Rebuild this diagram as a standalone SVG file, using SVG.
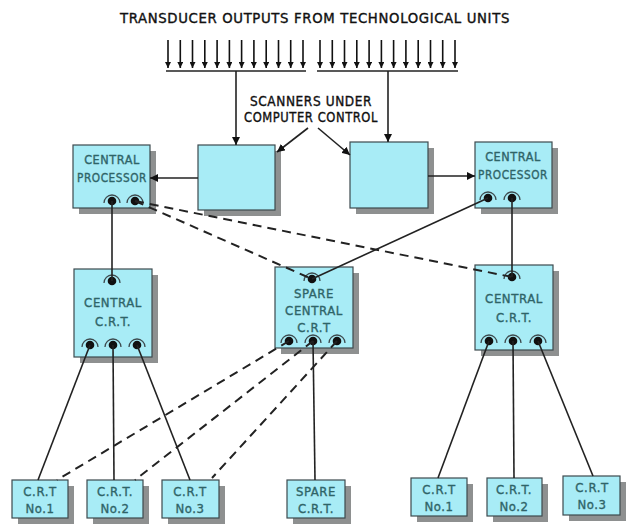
<svg xmlns="http://www.w3.org/2000/svg" width="628" height="526" viewBox="0 0 628 526">
<style>
.box{fill:#a8ecf6;stroke:#3d4a4e;stroke-width:1.2}
.sh{fill:#8e9090}
.t{font-family:"DejaVu Sans Condensed","Liberation Sans Narrow","Liberation Sans",sans-serif;font-size:12.5px;fill:#2f6468;stroke:#2f6468;stroke-width:0.35;text-anchor:middle;letter-spacing:0.6px}
.tb{font-size:13px}
.lbl{font-family:"DejaVu Sans Condensed","Liberation Sans Narrow","Liberation Sans",sans-serif;font-size:13.5px;fill:#111;stroke:#111;stroke-width:0.35;text-anchor:middle;letter-spacing:0.6px}
.ln{stroke:#222;stroke-width:1.6;fill:none}
.dash{stroke:#222;stroke-width:2;fill:none;stroke-dasharray:9 6}
.arc{stroke:#3d4a4e;stroke-width:1.3;fill:none}
.dot{fill:#111}
</style>
<defs>
<marker id="ah" viewBox="0 0 10 10" refX="10" refY="5" markerWidth="8" markerHeight="8" markerUnits="userSpaceOnUse" orient="auto"><path d="M0,0 L10,5 L0,10 z" fill="#111"/></marker>
<marker id="ah2" viewBox="0 0 10 10" refX="10" refY="5" markerWidth="7" markerHeight="6" markerUnits="userSpaceOnUse" orient="auto"><path d="M0,0 L10,5 L0,10 z" fill="#111"/></marker>
<g id="conn"><path class="arc" d="M-8,2 A8,8 0 0 1 8,2"/><circle class="dot" r="4.3"/></g>
</defs>

<text class="lbl" x="315" y="23" textLength="390" lengthAdjust="spacingAndGlyphs">TRANSDUCER OUTPUTS FROM TECHNOLOGICAL UNITS</text>

<g id="transducers">
<g stroke="#111" stroke-width="1.6" marker-end="url(#ah2)">
<line x1="168" y1="40" x2="168" y2="68"/><line x1="180.3" y1="40" x2="180.3" y2="68"/><line x1="192.5" y1="40" x2="192.5" y2="68"/><line x1="204.8" y1="40" x2="204.8" y2="68"/><line x1="217.1" y1="40" x2="217.1" y2="68"/><line x1="229.4" y1="40" x2="229.4" y2="68"/><line x1="241.6" y1="40" x2="241.6" y2="68"/><line x1="253.9" y1="40" x2="253.9" y2="68"/><line x1="266.2" y1="40" x2="266.2" y2="68"/><line x1="278.5" y1="40" x2="278.5" y2="68"/><line x1="290.7" y1="40" x2="290.7" y2="68"/><line x1="303" y1="40" x2="303" y2="68"/>
<line x1="320" y1="40" x2="320" y2="68"/><line x1="332.3" y1="40" x2="332.3" y2="68"/><line x1="344.5" y1="40" x2="344.5" y2="68"/><line x1="356.8" y1="40" x2="356.8" y2="68"/><line x1="369.1" y1="40" x2="369.1" y2="68"/><line x1="381.4" y1="40" x2="381.4" y2="68"/><line x1="393.6" y1="40" x2="393.6" y2="68"/><line x1="405.9" y1="40" x2="405.9" y2="68"/><line x1="418.2" y1="40" x2="418.2" y2="68"/><line x1="430.5" y1="40" x2="430.5" y2="68"/><line x1="442.7" y1="40" x2="442.7" y2="68"/><line x1="455" y1="40" x2="455" y2="68"/>
</g>
<line class="ln" x1="166" y1="71" x2="306" y2="71"/>
<line class="ln" x1="317" y1="71" x2="458" y2="71"/>
</g>

<text class="lbl" x="311" y="106">SCANNERS UNDER</text>
<text class="lbl" x="311" y="122" textLength="134" lengthAdjust="spacingAndGlyphs">COMPUTER CONTROL</text>

<g id="scanner-left"><rect class="sh" x="204" y="151" width="77" height="65"/><rect class="box" x="198" y="145" width="77" height="65"/></g>
<g id="scanner-right"><rect class="sh" x="356" y="148" width="78" height="66"/><rect class="box" x="350" y="142" width="78" height="66"/></g>

<g id="cp-left"><rect class="sh" x="79" y="151" width="77" height="63"/><rect class="box" x="73" y="145" width="77" height="63"/>
<text class="t" x="112" y="164">CENTRAL</text><text class="t" x="112" y="182" textLength="70" lengthAdjust="spacingAndGlyphs">PROCESSOR</text>
<use href="#conn" x="112" y="201"/><use href="#conn" x="135" y="201"/></g>

<g id="cp-right"><rect class="sh" x="481" y="148" width="77" height="66"/><rect class="box" x="475" y="142" width="77" height="66"/>
<text class="t" x="513" y="161">CENTRAL</text><text class="t" x="513" y="179" textLength="70" lengthAdjust="spacingAndGlyphs">PROCESSOR</text>
<use href="#conn" x="488" y="198"/><use href="#conn" x="512" y="198"/></g>

<g id="ccrt-left"><rect class="sh" x="80" y="275" width="78" height="88"/><rect class="box" x="74" y="269" width="78" height="88"/>
<text class="t tb" x="113" y="307">CENTRAL</text><text class="t tb" x="113" y="326">C.R.T.</text>
<use href="#conn" x="112" y="281"/><use href="#conn" x="90" y="345"/><use href="#conn" x="113" y="345"/><use href="#conn" x="137" y="345"/></g>

<g id="spare-ccrt"><rect class="sh" x="281" y="273" width="78" height="81"/><rect class="box" x="275" y="267" width="78" height="81"/>
<text class="t tb" x="314" y="298">SPARE</text><text class="t tb" x="314" y="315">CENTRAL</text><text class="t tb" x="314" y="332">C.R.T</text>
<use href="#conn" x="312" y="279"/><use href="#conn" x="289" y="341"/><use href="#conn" x="313" y="341"/><use href="#conn" x="337" y="341"/></g>

<g id="ccrt-right"><rect class="sh" x="481" y="271" width="78" height="85"/><rect class="box" x="475" y="265" width="78" height="85"/>
<text class="t tb" x="514" y="303">CENTRAL</text><text class="t tb" x="514" y="322">C.R.T.</text>
<use href="#conn" x="512" y="277"/><use href="#conn" x="489" y="341"/><use href="#conn" x="513" y="341"/><use href="#conn" x="538" y="341"/></g>

<g id="crt-l1"><rect class="sh" x="18" y="486" width="56" height="38"/><rect class="box" x="12" y="480" width="56" height="38"/><text class="t tb" x="40" y="496">C.R.T</text><text class="t tb" x="40" y="513">No.1</text></g>
<g id="crt-l2"><rect class="sh" x="93" y="486" width="56" height="38"/><rect class="box" x="87" y="480" width="56" height="38"/><text class="t tb" x="115" y="496">C.R.T.</text><text class="t tb" x="115" y="513">No.2</text></g>
<g id="crt-l3"><rect class="sh" x="168" y="486" width="57" height="38"/><rect class="box" x="162" y="480" width="57" height="38"/><text class="t tb" x="190" y="496">C.R.T</text><text class="t tb" x="190" y="513">No.3</text></g>
<g id="crt-spare"><rect class="sh" x="293" y="486" width="58" height="38"/><rect class="box" x="287" y="480" width="58" height="38"/><text class="t tb" x="316" y="496">SPARE</text><text class="t tb" x="316" y="513">C.R.T.</text></g>
<g id="crt-r1"><rect class="sh" x="417" y="484" width="56" height="38"/><rect class="box" x="411" y="478" width="56" height="38"/><text class="t tb" x="439" y="494">C.R.T</text><text class="t tb" x="439" y="511">No.1</text></g>
<g id="crt-r2"><rect class="sh" x="493" y="484" width="55" height="38"/><rect class="box" x="487" y="478" width="55" height="38"/><text class="t tb" x="514" y="494">C.R.T.</text><text class="t tb" x="514" y="511">No.2</text></g>
<g id="crt-r3"><rect class="sh" x="569" y="482" width="57" height="39"/><rect class="box" x="563" y="476" width="57" height="39"/><text class="t tb" x="592" y="492">C.R.T</text><text class="t tb" x="592" y="509">No.3</text></g>

<g id="connectors">
<line class="ln" x1="236" y1="71" x2="236" y2="145" marker-end="url(#ah)"/>
<line class="ln" x1="388" y1="71" x2="388" y2="142" marker-end="url(#ah)"/>
<line class="ln" x1="308" y1="128" x2="277" y2="152" stroke-width="1.2" marker-end="url(#ah)"/>
<line class="ln" x1="318" y1="128" x2="350" y2="155" stroke-width="1.2" marker-end="url(#ah)"/>
<line class="ln" x1="198" y1="178" x2="150" y2="178" marker-end="url(#ah)"/>
<line class="ln" x1="428" y1="176" x2="475" y2="176" marker-end="url(#ah)"/>
<line class="ln" x1="112" y1="201" x2="112" y2="281"/>
<line class="ln" x1="512" y1="198" x2="512" y2="277"/>
<line class="ln" x1="488" y1="198" x2="312" y2="279"/>
<line class="dash" x1="135" y1="201" x2="312" y2="279"/>
<line class="dash" x1="135" y1="201" x2="512" y2="277"/>
<line class="ln" x1="90" y1="345" x2="38" y2="480"/>
<line class="ln" x1="113" y1="345" x2="114" y2="480"/>
<line class="ln" x1="137" y1="345" x2="190" y2="480"/>
<line class="ln" x1="313" y1="341" x2="315" y2="480"/>
<line class="ln" x1="489" y1="341" x2="438" y2="478"/>
<line class="ln" x1="513" y1="341" x2="514" y2="478"/>
<line class="ln" x1="538" y1="341" x2="593" y2="476"/>
<line class="dash" x1="289" y1="341" x2="57" y2="480"/>
<line class="dash" x1="313" y1="341" x2="135" y2="480"/>
<line class="dash" x1="337" y1="341" x2="212" y2="478"/>
</g>
</svg>
